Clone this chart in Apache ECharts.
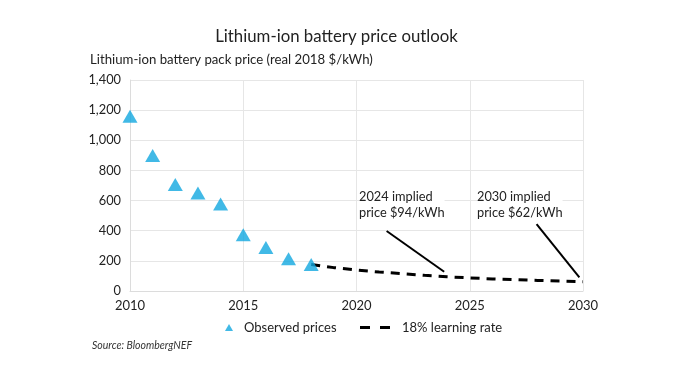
<!DOCTYPE html>
<html><head><meta charset="utf-8">
<script src="https://cdn.jsdelivr.net/npm/echarts@6/dist/echarts.min.js"></script>
<style>html,body{margin:0;padding:0;background:#fff}#c{width:673px;height:371px}</style>
</head><body><div id="c"></div>
<script>
var observedYears = [2010, 2011, 2012, 2013, 2014, 2015, 2016, 2017, 2018];
var observedPrices = [1160, 899, 707, 650, 577, 373, 288, 214, 176];
var outlookYears = [2018, 2019, 2020, 2021, 2022, 2023, 2024, 2025, 2026, 2027, 2028, 2029, 2030];
var outlookPrices = [176, 155, 139, 126, 115, 104, 94, 87, 80, 75, 70, 66, 62];
var annotations = [
  {text: '2024 implied\nprice $94/kWh', from: [2021.33, 398], to: [2023.87, 128]},
  {text: '2030 implied\nprice $62/kWh', from: [2027.95, 443], to: [2029.84, 91]}
];
var FONT = 'Lato';
var BLUE = '#12a8e0';
var chart = echarts.init(document.getElementById('c'));
chart.setOption({
  animation: false,
  textStyle: {fontFamily: FONT},
  title: {
    text: 'Lithium-ion battery price outlook',
    left: 'center', top: 23,
    textStyle: {fontSize: 16.8, fontWeight: 'normal', color: '#222', fontFamily: FONT}
  },
  grid: {left: 130, right: 90, top: 80, bottom: 80},
  legend: [
    {
      left: 220, top: 316,
      itemWidth: 8, itemHeight: 7,
      textStyle: {fontSize: 13, color: '#222', fontFamily: FONT, padding: [0, 0, 0, 6]},
      data: [{name: 'Observed prices', icon: 'triangle', itemStyle: {color: BLUE}}]
    },
    {
      left: 355, top: 316,
      itemWidth: 30, itemHeight: 3,
      textStyle: {fontSize: 13, color: '#222', fontFamily: FONT, padding: [0, 0, 0, 7]},
      data: [{name: '18% learning rate', icon: 'path://M0,0 H10 V3 H0 Z M20,0 H30 V3 H20 Z', itemStyle: {color: '#000'}}]
    }
  ],
  xAxis: {
    type: 'value', min: 2010, max: 2030, interval: 5,
    axisLine: {show: true, lineStyle: {color: '#dcdcdc'}},
    axisTick: {show: false},
    splitLine: {show: true, lineStyle: {color: '#e6e6e6'}},
    axisLabel: {formatter: function (v) { return String(v); }, color: '#222', fontSize: 13, margin: 8}
  },
  yAxis: {
    type: 'value', min: 0, max: 1400, interval: 200,
    name: 'Lithium-ion battery pack price (real 2018 $/kWh)',
    nameLocation: 'end', nameGap: 14,
    nameTextStyle: {align: 'left', padding: [0, 0, 0, -40], color: '#222', fontSize: 13.2, fontFamily: FONT},
    axisLine: {show: true, lineStyle: {color: '#dcdcdc'}},
    axisTick: {show: false},
    splitLine: {show: true, lineStyle: {color: '#e6e6e6'}},
    axisLabel: {color: '#222', fontSize: 12.8, margin: 9}
  },
  series: [
    {
      name: '18% learning rate', type: 'line',
      data: outlookYears.map(function (y, i) { return [y, outlookPrices[i]]; }),
      symbol: 'none', smooth: false,
      lineStyle: {color: '#000', width: 3, type: [9, 7]},
      itemStyle: {color: '#000'},
      z: 2,
      markLine: {
        silent: true, symbol: 'none',
        lineStyle: {color: '#000', width: 2, type: 'solid'},
        label: {show: false},
        data: annotations.map(function (a) { return [{coord: a.from}, {coord: a.to}]; })
      }
    },
    {
      name: 'Observed prices', type: 'scatter',
      data: observedYears.map(function (y, i) { return [y, observedPrices[i]]; }),
      symbol: 'triangle', symbolSize: [15, 13],
      itemStyle: {color: BLUE},
      z: 3
    }
  ],
  graphic: [
    {type: 'text', left: 359, top: 189, z: 10, style: {text: annotations[0].text, font: '12.8px ' + FONT, fill: '#222', lineHeight: 16, backgroundColor: '#fff'}},
    {type: 'text', left: 477, top: 189, z: 10, style: {text: annotations[1].text, font: '12.8px ' + FONT, fill: '#222', lineHeight: 16, backgroundColor: '#fff'}},
    {type: 'text', left: 92, top: 340, style: {text: 'Source: BloombergNEF', font: 'italic 10.5px ' + FONT, fill: '#333'}}
  ]
});
</script></body></html>
